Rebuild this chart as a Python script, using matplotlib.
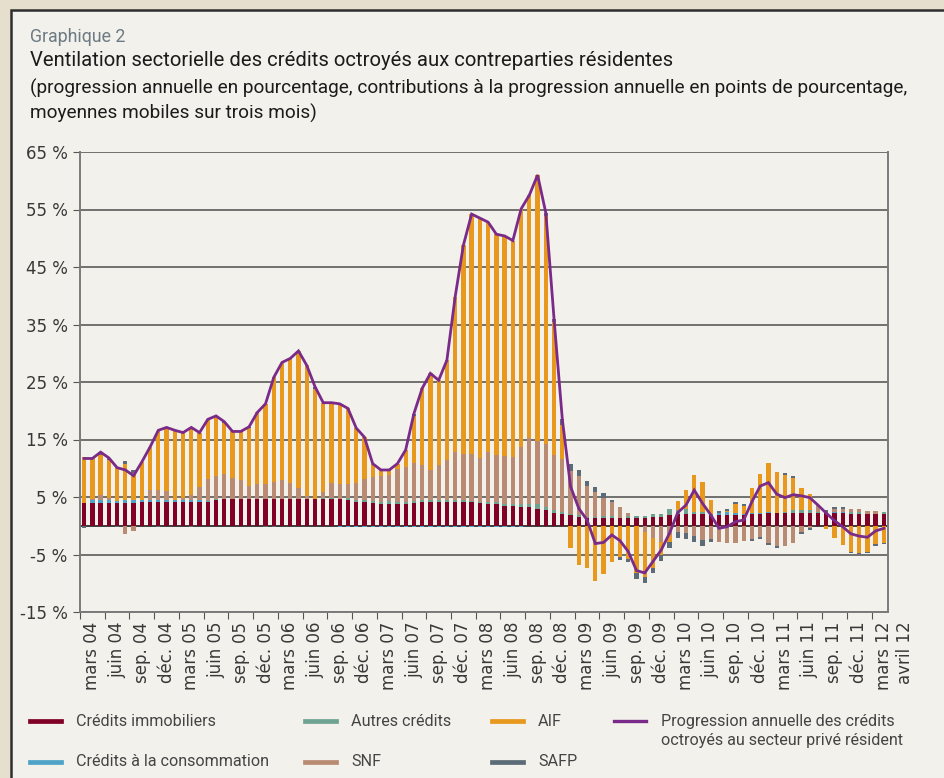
import numpy as np
import matplotlib
matplotlib.use("Agg")
import matplotlib.pyplot as plt
from matplotlib.patches import Rectangle
from matplotlib.lines import Line2D

# ---------------- data (monthly, 3-month moving averages) ----------------
immo = [3.9,3.9,3.9,3.9,3.9,3.9,3.9,4.1,4.1,4.1,
        4.1,4.1,4.1,4.1,4.1,4.1,4.4,4.6,4.6,4.6,
        4.6,4.6,4.6,4.6,4.6,4.6,4.6,4.6,4.6,4.7,
        4.7,4.6,4.5,4.1,4.1,3.9,3.8,3.8,3.8,3.8,
        3.9,4.1,4.1,4.1,4.1,4.1,4.1,4.1,3.9,3.8,
        3.8,3.4,3.4,3.2,3.2,2.9,2.7,2.2,2.0,1.9,
        1.5,1.3,1.3,1.3,1.3,1.3,1.3,1.3,1.3,1.5,
        1.5,1.9,2.0,2.0,2.0,2.0,1.9,1.9,1.9,1.9,
        1.9,2.0,2.0,2.2,2.2,2.2,2.2,2.2,2.2,2.2,
        2.2,2.2,2.2,2.0,2.0,2.0,2.0,2.0]
conso = [0.1,0.6,0.5,0.5,0.4,0.5,0.5,0.35,0.35,0.45,
         0.45,0.35,0.35,0.35,0.35,0.25,0.1,0,0,0,
         0,0,0,0,0,0,0,0,0,0,
         0,-0.15,-0.15,-0.15,-0.15,-0.15,-0.15,-0.15,-0.15,-0.15,
         -0.15,-0.15,-0.15,-0.15,-0.15,-0.15,-0.15,-0.15,-0.15,-0.15,
         -0.15,-0.15,-0.15,-0.15,0,0,0,0,0,0,
         0,0,0,0,0,0,0,0,0,0,
         0,0,0,0,0,0,0.17,0.3,0.45,0.3,
         0.17,0.23,0.23,0.17,0,0,0,0,0,0,
         0,0.25,0.25,0,0,0,0,0]
autres = [0,0,0,0,0,0,0,0,0,0,
          0,0,0,0,0,0,0.15,0.1,0.1,0.1,
          0.1,0.1,0.1,0.1,0.1,0.1,0.1,0.1,0.1,0.1,
          0.1,0.1,0.4,0.45,0.35,0.4,0.35,0.5,0.35,0.35,
          0.4,0.35,0.45,0.45,0.35,0.35,0.35,0.25,0.3,0.35,
          0.35,0.35,0.45,0.65,0.65,0.85,0.6,0.5,0.35,0.2,
          0.3,0.25,0.25,0.35,0.35,0,0.35,0.35,0.35,0.6,
          0.6,1.0,0.7,1.0,0.4,0.35,0,0,0,0,
          0,0,0,0,0,0.2,0.5,0.5,0.5,0.25,
          0,0,0,0.4,0.4,0,0,0.35]
snf = [0,0.2,1.0,0.45,0,-1.45,-0.9,0,1.8,1.6,
       1.45,0.1,0.3,0.9,2.3,3.7,3.95,4.3,3.6,3.25,
       2.2,2.55,2.55,2.9,3.25,2.7,1.85,0.45,0,1.15,
       2.55,2.55,2.4,2.8,3.6,4.2,4.5,4.5,5.7,6.0,
       6.7,6.1,5.2,6.0,7.0,8.4,8.0,8.2,7.6,8.7,
       8.1,8.45,8.1,9.9,11.4,11.0,10.9,9.6,9.2,7.5,
       6.85,5.3,4.3,3.25,2.4,2.0,0.5,0,-1.05,-2.1,
       -2.9,-1.6,-1.05,-1.3,-1.8,-2.5,-2.3,-2.8,-3.0,-3.0,
       -2.6,-2.3,-1.9,-2.95,-3.5,-3.5,-3.0,-1.05,-0.45,1.1,
       0,0.5,0.5,0.6,0.6,0.5,0.5,0]
aif = [7.9,7.0,6.9,6.55,6.0,6.4,4.8,6.6,7.4,10.4,
       11.1,12.0,11.4,11.7,9.4,10.4,10.5,8.8,8.1,8.45,
       10.1,12.45,13.95,18.2,20.4,21.7,23.85,22.75,19.1,15.35,
       14.05,13.95,13.1,9.65,7.35,2.3,1.05,0.9,0.95,3.05,
       8.1,13.35,16.75,14.75,17.35,26.95,36.35,41.65,41.7,39.95,
       38.45,38.2,37.65,41.35,42.25,46.25,39.7,23.2,5.95,-3.9,
       -6.8,-7.3,-9.6,-8.4,-6.3,-5.4,-5.8,-8.3,-7.8,-5.2,
       -2.2,-1.15,1.55,3.2,6.5,5.2,2.4,0,0.25,1.6,
       1.45,4.3,6.8,8.5,7.1,6.4,5.6,3.8,2.9,0,
       -0.6,-2.15,-3.4,-4.5,-4.7,-4.5,-3.2,-2.95]
safp = [-0.4,0,0.5,0.3,-0.3,0.4,0.45,0,0,-0.15,
        0,0,0,-0.15,0,0,0,0.3,0,0,
        0.2,0,-0.15,-0.15,0,0,0,0,0.4,0.1,
        0,0,0,0,0,0,0,0,0,0,
        0.4,0,0,0,0,0,0,0,0,0,
        0,0,0,0,0,0,0.5,0.4,1.15,1.15,
        1.0,1.0,0.9,0.75,0.5,-0.6,-0.5,-0.9,-1.05,-0.9,
        -1.0,-1.05,-1.05,-1.0,-1.0,-1.0,-0.5,0.4,0.35,0.3,
        0.3,-0.3,-0.35,-0.4,-0.35,0.35,0.35,-0.35,-0.3,0,
        0.6,0.3,0.3,-0.3,-0.25,-0.3,-0.35,-0.25]
progression = [11.7,11.7,12.8,11.8,10.1,9.7,8.7,11.1,13.7,16.6,
               17.1,16.6,16.2,17.1,16.2,18.5,19.1,18.1,16.4,16.4,
               17.2,19.7,21.2,25.8,28.4,29.1,30.4,27.9,24.2,21.4,
               21.4,21.2,20.4,17.0,15.4,10.8,9.7,9.7,10.8,13.2,
               19.5,23.9,26.5,25.3,28.8,39.8,48.8,54.2,53.5,52.8,
               50.7,50.4,49.6,55.1,57.5,61.0,54.4,35.9,18.5,6.8,
               3.0,1.0,-3.1,-2.9,-1.6,-2.6,-4.5,-7.8,-8.2,-6.2,
               -4.2,-1.3,2.3,3.6,6.2,3.9,1.9,-0.45,-0.16,0.7,
               1.0,4.2,6.9,7.5,5.5,4.9,5.4,5.2,4.9,3.6,
               2.2,0.9,-0.16,-1.4,-1.8,-2.0,-0.9,-0.45]

tick_labels = ["mars 04", "juin 04", "sep. 04", "déc. 04",
               "mars 05", "juin 05", "sep. 05", "déc. 05",
               "mars 06", "juin 06", "sep. 06", "déc. 06",
               "mars 07", "juin 07", "sep. 07", "déc. 07",
               "mars 08", "juin 08", "sep. 08", "déc. 08",
               "mars 09", "juin 09", "sep. 09", "déc. 09",
               "mars 10", "juin 10", "sep. 10", "déc. 10",
               "mars 11", "juin 11", "sep. 11", "déc. 11",
               "mars 12"]
last_label = "avril 12"

series_names = ["Crédits immobiliers", "Crédits à la consommation", "Autres crédits",
                "SNF", "AIF", "SAFP"]
series_values = [immo, conso, autres, snf, aif, safp]
series_colors = ["#800026", "#4fa3c7", "#6ea392", "#b98b73", "#e8981c", "#5b6b77"]
line_name = "Progression annuelle des crédits\noctroyés au secteur privé résident"
line_color = "#7a2a88"

# ---------------- figure ----------------
W, H = 944, 778
fig = plt.figure(figsize=(W / 100, H / 100), dpi=100, facecolor="#e6dfce")
fig.patches.append(Rectangle((11 / W, -0.01), 1.1, 1 - 10 / H + 0.01, transform=fig.transFigure,
                             facecolor="#f2f1eb", edgecolor="#2e2e2e", lw=1.8, zorder=-5))

narrow = ["Roboto", "DejaVu Sans"]
fig.text(30 / W, 1 - 37 / H, "Graphique 2", family=narrow, fontsize=12.8, color="#6d7a83", va="center")
fig.text(30 / W, 1 - 61 / H, "Ventilation sectorielle des crédits octroyés aux contreparties résidentes",
         family=narrow, fontsize=14.6, color="#1b1b1b", va="center")
fig.text(30 / W, 1 - 88 / H,
         "(progression annuelle en pourcentage, contributions à la progression annuelle en points de pourcentage,",
         family=narrow, fontsize=13.65, color="#1b1b1b", va="center")
fig.text(30 / W, 1 - 113 / H, "moyennes mobiles sur trois mois)",
         family=narrow, fontsize=13.65, color="#1b1b1b", va="center")

ax = fig.add_axes([80 / W, 1 - 612 / H, 808 / W, 460 / H])
ax.set_facecolor("none")

n = len(immo)
x = np.arange(n)
pos_base = np.zeros(n)
neg_base = np.zeros(n)
for vals, col in zip(series_values, series_colors):
    v = np.array(vals, dtype=float)
    pos = np.where(v > 0, v, 0)
    neg = np.where(v < 0, v, 0)
    ax.bar(x, pos, bottom=pos_base, width=0.52, color=col, linewidth=0, zorder=3)
    ax.bar(x, neg, bottom=neg_base, width=0.52, color=col, linewidth=0, zorder=3)
    pos_base += pos
    neg_base += neg

ax.plot(x, progression, color=line_color, lw=2.0, zorder=5, solid_joinstyle="miter")

ax.set_xlim(-0.5, n - 0.5)
ax.set_ylim(-15, 65)
yt = np.arange(-15, 66, 10)
ax.set_yticks(yt)
ax.set_yticklabels([f"{v} %" for v in yt], fontsize=12, color="#383838")
ax.yaxis.grid(True, color="#4d4d4d", lw=1.1, zorder=1)
ax.set_axisbelow(True)
ax.axhline(0, color="#1e1e1e", lw=1.2, zorder=2)

major = np.arange(-0.5, n - 0.5, 3)
ax.set_xticks(major)
ax.set_xticklabels([])
label_pos = np.arange(1, 1 + 3 * len(tick_labels), 3)
ax.set_xticks(label_pos, minor=True)
ax.set_xticklabels(tick_labels, minor=True, rotation=90, fontsize=12, color="#383838")
ax.tick_params(axis="x", which="major", length=5, direction="out", color="#555555")
ax.tick_params(axis="x", which="minor", length=0, pad=7)
ax.tick_params(axis="y", length=5, direction="out", color="#555555", pad=4)
ax.annotate(last_label, xy=(n + 1.6, 0), xycoords=("data", "axes fraction"),
            xytext=(0, -7), textcoords="offset points", rotation=90,
            ha="center", va="top", fontsize=12, color="#383838", annotation_clip=False)

for s in ["left", "right", "bottom"]:
    ax.spines[s].set_color("#7a7a7a")
    ax.spines[s].set_linewidth(1.4)
ax.spines["top"].set_visible(False)

# ---------------- legend ----------------
def legend_item(x0, y0, color, text):
    fig.add_artist(Line2D([x0 / W, (x0 + 31) / W], [1 - y0 / H, 1 - y0 / H],
                          transform=fig.transFigure, color=color, lw=3.4))
    fig.text((x0 + 46) / W, 1 - y0 / H, text, family=narrow, fontsize=11.6,
             color="#444444", va="center", linespacing=1.4)

legend_item(30, 721, series_colors[0], series_names[0])
legend_item(305, 721, series_colors[2], series_names[2])
legend_item(492, 721, series_colors[4], series_names[4])
legend_item(30, 762, series_colors[1], series_names[1])
legend_item(305, 762, series_colors[3], series_names[3])
legend_item(492, 762, series_colors[5], series_names[5])
fig.add_artist(Line2D([614 / W, 646 / W], [1 - 721 / H, 1 - 721 / H],
                      transform=fig.transFigure, color=line_color, lw=2.4))
fig.text(661 / W, 1 - 731 / H, line_name, family=narrow, fontsize=11.6,
         color="#444444", va="center", linespacing=1.4)

fig.savefig("out.png", dpi=100, facecolor=fig.get_facecolor())
